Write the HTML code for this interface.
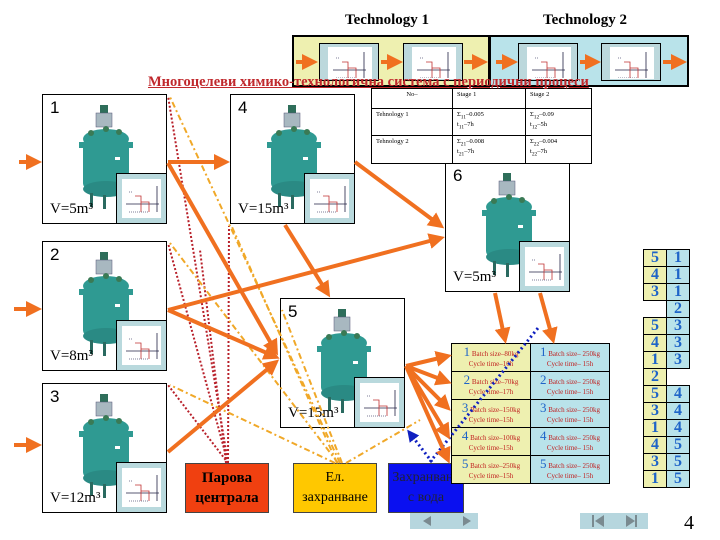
<!DOCTYPE html>
<html><head><meta charset="utf-8"><style>
body{margin:0;background:#fff}
#c{position:relative;width:720px;height:540px;overflow:hidden;background:#fff;font-family:"Liberation Serif",serif}
.a{position:absolute}
.box{position:absolute;width:125px;height:130px;border:1px solid #000;box-sizing:border-box;background:#fff}
.num{position:absolute;left:7px;top:3px;font:17px "Liberation Sans",sans-serif}
.v{position:absolute;left:7px;top:106px;font:15px "Liberation Serif",serif}
.ins{position:absolute;right:-1px;bottom:-1px;width:51px;height:51px;border:1px solid #000;background:#b9d9dd;box-sizing:border-box}
.ins i{position:absolute;left:5px;top:5px;width:39px;height:39px;background:#fff}
table{border-collapse:collapse}
.tt{table-layout:fixed}
.tt td{border:1px solid #000;font-size:6.5px;vertical-align:top;padding:2px 4px;line-height:8px;overflow:hidden}
.bt td{border:1px solid #000;width:78px;height:27px;padding:0;text-align:center;font-size:7px;color:#c02020;line-height:10px}
.bt td b{color:#1e64c8;font-size:13px;font-weight:normal}
.y{background:#eef0b0}.c{background:#b9e3ea}
.rt td{width:22px;height:16px;border:1px solid #000;padding:0;text-align:center;font:bold 16px "Liberation Serif",serif;color:#1e64c8;line-height:16px}
.rt td.n{border:none;background:transparent}
.tb{position:absolute;width:60px;height:38px;background:#bcd8dc;border:1px solid #000;box-sizing:border-box}
.tb i{position:absolute;left:8px;top:3px;width:44px;height:32px;background:#fff}
.btn{position:absolute;height:50px;border:1px solid #444;box-sizing:border-box;text-align:center;font-family:"Liberation Serif",serif}
</style></head><body><div id="c">
<svg width="0" height="0" style="position:absolute"><defs>
<g id="tank">
<rect x="57" y="10" width="8" height="8" fill="#2e6e5a"/>
<rect x="53" y="18" width="16" height="14" fill="#a8b8c0" stroke="#557" stroke-width=".5"/>
<ellipse cx="63" cy="44" rx="23" ry="10" fill="#2f9a92"/>
<rect x="40" y="44" width="46" height="50" rx="6" fill="#2f9a92"/>
<ellipse cx="63" cy="94" rx="23" ry="8" fill="#2a8a84"/>
<rect x="36" y="47" width="8" height="6" fill="#2f9a92"/><rect x="82" y="47" width="8" height="6" fill="#2f9a92"/>
<rect x="47" y="98" width="3" height="14" fill="#2a6a60"/><rect x="60" y="100" width="3" height="14" fill="#2a6a60"/><rect x="75" y="98" width="3" height="14" fill="#2a6a60"/>
<rect x="72" y="62" width="5" height="3" fill="#fff"/>
<circle cx="48" cy="38" r="3" fill="#3a7a55"/><circle cx="76" cy="37" r="3" fill="#3a7a55"/><circle cx="63" cy="34" r="3" fill="#3a7a55"/>
</g>
<g id="chart" stroke-width=".8" fill="none">
<line x1="3" y1="22" x2="36" y2="22" stroke="#224"/><line x1="34" y1="4" x2="34" y2="30" stroke="#224"/>
<path d="M12 14h6v16M18 20h8v10" stroke="#c03030"/>
<path d="M6 10h4M6 30h20" stroke="#557" stroke-dasharray="1 1"/>
</g></defs></svg>

<div class="a" style="left:345px;top:12px;font:bold 15px 'Liberation Serif',serif">Technology 1</div>
<div class="a" style="left:543px;top:12px;font:bold 15px 'Liberation Serif',serif">Technology 2</div>
<div class="a" style="left:292px;top:35px;width:198px;height:52px;background:#eef0b0;border:2px solid #000;box-sizing:border-box"></div>
<div class="a" style="left:489px;top:35px;width:200px;height:52px;background:#b9e3ea;border:2px solid #000;box-sizing:border-box"></div>
<div class="tb" style="left:319px;top:43px"><i></i><svg class="a" style="left:10px;top:4px" width="40" height="30"><use href="#chart"/></svg></div>
<div class="tb" style="left:403px;top:43px"><i></i><svg class="a" style="left:10px;top:4px" width="40" height="30"><use href="#chart"/></svg></div>
<div class="tb" style="left:518px;top:43px"><i></i><svg class="a" style="left:10px;top:4px" width="40" height="30"><use href="#chart"/></svg></div>
<div class="tb" style="left:601px;top:43px"><i></i><svg class="a" style="left:10px;top:4px" width="40" height="30"><use href="#chart"/></svg></div>

<div class="box" style="left:42px;top:94px"><svg class="a" width="125" height="130"><use href="#tank"/></svg><div class="num">1</div><div class="v">V=5m³</div><div class="ins"><i></i><svg class="a" style="left:6px;top:8px" width="40" height="35"><use href="#chart"/></svg></div></div>
<div class="box" style="left:230px;top:94px"><svg class="a" width="125" height="130"><use href="#tank"/></svg><div class="num">4</div><div class="v">V=15m³</div><div class="ins"><i></i><svg class="a" style="left:6px;top:8px" width="40" height="35"><use href="#chart"/></svg></div></div>
<div class="box" style="left:42px;top:241px"><svg class="a" width="125" height="130"><use href="#tank"/></svg><div class="num">2</div><div class="v">V=8m³</div><div class="ins"><i></i><svg class="a" style="left:6px;top:8px" width="40" height="35"><use href="#chart"/></svg></div></div>
<div class="box" style="left:42px;top:383px"><svg class="a" width="125" height="130"><use href="#tank"/></svg><div class="num">3</div><div class="v">V=12m³</div><div class="ins"><i></i><svg class="a" style="left:6px;top:8px" width="40" height="35"><use href="#chart"/></svg></div></div>
<div class="box" style="left:280px;top:298px"><svg class="a" width="125" height="130"><use href="#tank"/></svg><div class="num">5</div><div class="v">V=15m³</div><div class="ins"><i></i><svg class="a" style="left:6px;top:8px" width="40" height="35"><use href="#chart"/></svg></div></div>
<div class="box" style="left:445px;top:162px"><svg class="a" width="125" height="130"><use href="#tank"/></svg><div class="num">6</div><div class="v">V=5m³</div><div class="ins"><i></i><svg class="a" style="left:6px;top:8px" width="40" height="35"><use href="#chart"/></svg></div></div>

<table class="tt a" style="left:371px;top:88px;width:221px;background:#fff">
<tr style="height:19px"><td style="width:72px;text-align:center;height:15px">No–</td><td style="width:64px">Stage 1</td><td>Stage 2</td></tr>
<tr><td style="height:22px">Tehnology 1</td><td>Σ<sub>11</sub>–0.005<br>t<sub>11</sub>–7h</td><td>Σ<sub>12</sub>–0.09<br>t<sub>12</sub>–5h</td></tr>
<tr><td style="height:23px">Tehnology 2</td><td>Σ<sub>21</sub>–0.008<br>t<sub>21</sub>–7h</td><td>Σ<sub>22</sub>–0.004<br>t<sub>22</sub>–7h</td></tr>
</table>

<div class="a" style="left:148px;top:74px;font:bold 14.5px 'Liberation Serif',serif;color:#c0282c;text-decoration:underline;white-space:nowrap">Многоцелеви химико-технологична система с периодични процеси</div>

<div class="btn" style="left:185px;top:463px;width:84px;background:#f04010;font-weight:bold;font-size:15px;line-height:20px;padding-top:4px">Парова<br>централа</div>
<div class="btn" style="left:293px;top:463px;width:84px;background:#ffc800;font-size:14px;line-height:20px;padding-top:4px">Ел.<br>захранване</div>
<div class="btn" style="left:388px;top:463px;width:76px;background:#0a10f0;font-size:14px;line-height:20px;padding-top:4px;color:#223">Захранване<br>с вода</div>

<table class="bt a" style="left:451px;top:343px">
<tr><td class="y"><b>1</b> Batch size–80kg<br>Cycle time–10h</td><td class="c"><b>1</b> Batch size– 250kg<br>Cycle time– 15h</td></tr>
<tr><td class="y"><b>2</b> Batch size–70kg<br>Cycle time–17h</td><td class="c"><b>2</b> Batch size– 250kg<br>Cycle time– 15h</td></tr>
<tr><td class="y"><b>3</b> Batch size–150kg<br>Cycle time–15h</td><td class="c"><b>3</b> Batch size– 250kg<br>Cycle time– 15h</td></tr>
<tr><td class="y"><b>4</b> Batch size–100kg<br>Cycle time–15h</td><td class="c"><b>4</b> Batch size– 250kg<br>Cycle time– 15h</td></tr>
<tr><td class="y"><b>5</b> Batch size–250kg<br>Cycle time–15h</td><td class="c"><b>5</b> Batch size– 250kg<br>Cycle time– 15h</td></tr>
</table>

<table class="rt a" style="left:643px;top:249px">
<tr><td class="y">5</td><td class="c">1</td></tr>
<tr><td class="y">4</td><td class="c">1</td></tr>
<tr><td class="y">3</td><td class="c">1</td></tr>
<tr><td class="n"></td><td class="c">2</td></tr>
<tr><td class="y">5</td><td class="c">3</td></tr>
<tr><td class="y">4</td><td class="c">3</td></tr>
<tr><td class="y">1</td><td class="c">3</td></tr>
<tr><td class="y">2</td><td class="n"></td></tr>
<tr><td class="y">5</td><td class="c">4</td></tr>
<tr><td class="y">3</td><td class="c">4</td></tr>
<tr><td class="y">1</td><td class="c">4</td></tr>
<tr><td class="y">4</td><td class="c">5</td></tr>
<tr><td class="y">3</td><td class="c">5</td></tr>
<tr><td class="y">1</td><td class="c">5</td></tr>
</table>

<div class="a" style="left:410px;top:513px;width:68px;height:16px;background:#b6d6de"></div>
<div class="a" style="left:580px;top:513px;width:68px;height:16px;background:#b6d6de"></div>
<svg class="a" style="left:0;top:0" width="720" height="540">
<g fill="#7a8a90"><path d="M463 516l8 5-8 5z"/><path d="M431 516l-8 5 8 5z"/>
<rect x="592" y="515" width="2" height="12"/><path d="M604 515l-9 6 9 6z"/><path d="M626 515l9 6-9 6z"/><rect x="635" y="515" width="2" height="12"/></g>
<defs><marker id="ar" markerWidth="4" markerHeight="4" refX="3" refY="2" orient="auto"><path d="M0 0L4 2L0 4z" fill="#f07020"/></marker>
<marker id="bl" markerWidth="4" markerHeight="4" refX="3" refY="2" orient="auto"><path d="M0 0L4 2L0 4z" fill="#1020c0"/></marker></defs>
<g stroke="#b8202a" stroke-width="2" stroke-dasharray="2 2" fill="none">
<line x1="228" y1="463" x2="168" y2="96"/><line x1="228" y1="463" x2="168" y2="243"/><line x1="228" y1="463" x2="168" y2="385"/><line x1="228" y1="463" x2="229" y2="226"/><line x1="226" y1="463" x2="200" y2="250"/>
</g>
<g stroke="#f0a828" stroke-width="2" stroke-dasharray="6 3 2 3" fill="none">
<line x1="340" y1="463" x2="170" y2="97"/><line x1="338" y1="463" x2="170" y2="243"/><line x1="335" y1="463" x2="170" y2="385"/><line x1="337" y1="463" x2="232" y2="227"/><line x1="342" y1="463" x2="282" y2="310"/><line x1="346" y1="463" x2="420" y2="420"/>
</g>
<g stroke="#1020c0" stroke-width="3" stroke-dasharray="2 3" fill="none">
<line x1="432" y1="462" x2="409" y2="432" marker-end="url(#bl)"/><line x1="430" y1="462" x2="538" y2="328"/>
</g>
<g stroke="#f07020" stroke-width="4" fill="none" marker-end="url(#ar)">
<line x1="19" y1="162" x2="38" y2="162"/><line x1="14" y1="309" x2="38" y2="309"/><line x1="14" y1="445" x2="38" y2="445"/>
<line x1="168" y1="162" x2="226" y2="162"/><line x1="168" y1="163" x2="276" y2="352"/>
<line x1="355" y1="162" x2="441" y2="226"/><line x1="285" y1="225" x2="328" y2="294"/>
<line x1="168" y1="310" x2="441" y2="238"/><line x1="168" y1="310" x2="276" y2="357"/><line x1="168" y1="452" x2="276" y2="362"/>
<line x1="406" y1="366" x2="448" y2="356"/><line x1="406" y1="366" x2="448" y2="382"/><line x1="406" y1="366" x2="448" y2="408"/><line x1="406" y1="366" x2="448" y2="436"/><line x1="406" y1="366" x2="448" y2="460"/>
<line x1="495" y1="293" x2="505" y2="340"/><line x1="540" y1="293" x2="553" y2="340"/>
<line x1="296" y1="62" x2="314" y2="62"/><line x1="381" y1="62" x2="399" y2="62"/><line x1="464" y1="62" x2="484" y2="62"/><line x1="496" y1="62" x2="514" y2="62"/><line x1="580" y1="62" x2="597" y2="62"/><line x1="663" y1="62" x2="683" y2="62"/>
</g>
</svg>
<div class="a" style="left:684px;top:512px;font:20px 'Liberation Serif',serif">4</div>
</div></body></html>
